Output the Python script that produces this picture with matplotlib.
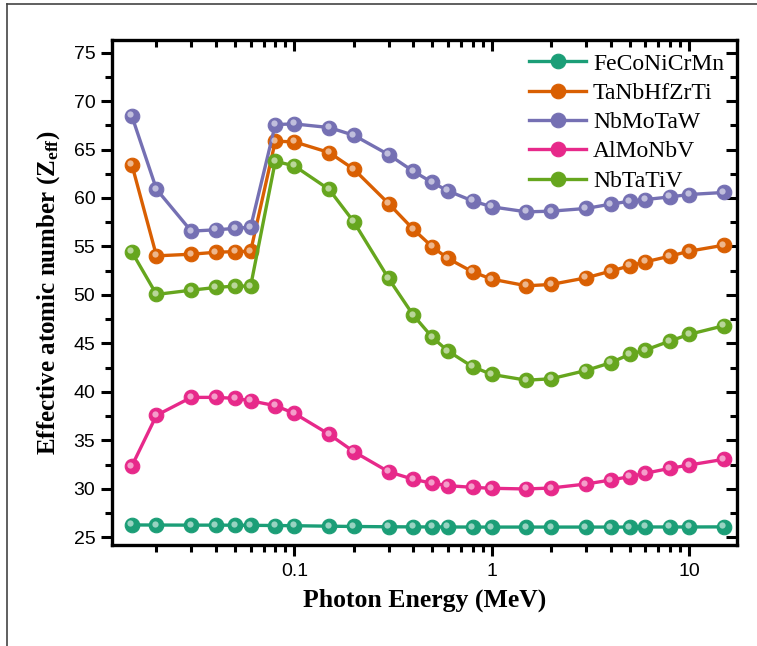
import numpy as np
import matplotlib.pyplot as plt
import matplotlib.transforms as mtransforms
from matplotlib.lines import Line2D
from matplotlib.ticker import MultipleLocator, LogLocator, FixedLocator, NullFormatter

plt.rcParams['mathtext.fontset'] = 'custom'
plt.rcParams['mathtext.bf'] = 'Liberation Serif:bold'
plt.rcParams['mathtext.rm'] = 'Liberation Serif'
plt.rcParams['mathtext.it'] = 'Liberation Serif:italic'

energy = [0.015, 0.02, 0.03, 0.04, 0.05, 0.06, 0.08, 0.1, 0.15, 0.2, 0.3, 0.4, 0.5,
          0.6, 0.8, 1, 1.5, 2, 3, 4, 5, 6, 8, 10, 15]

fe_co_ni_cr_mn = [26.27, 26.26, 26.25, 26.25, 26.24, 26.23, 26.21, 26.19, 26.14, 26.11,
                  26.08, 26.07, 26.06, 26.06, 26.05, 26.05, 26.05, 26.05, 26.05, 26.05,
                  26.05, 26.06, 26.06, 26.06, 26.07]
ta_nb_hf_zr_ti = [63.45, 54.03, 54.2, 54.4, 54.47, 54.5, 65.86, 65.79, 64.69, 62.97,
                  59.43, 56.78, 54.96, 53.76, 52.38, 51.63, 50.94, 51.08, 51.76, 52.45,
                  53.0, 53.41, 54.0, 54.51, 55.13]
nb_mo_ta_w = [68.46, 60.9, 56.58, 56.72, 56.86, 56.99, 67.58, 67.64, 67.27, 66.47,
              64.48, 62.76, 61.6, 60.73, 59.7, 59.09, 58.57, 58.64, 58.92, 59.36,
              59.67, 59.84, 60.11, 60.36, 60.57]
al_mo_nb_v = [32.35, 37.58, 39.43, 39.43, 39.33, 39.08, 38.57, 37.78, 35.62, 33.83,
              31.76, 30.98, 30.57, 30.32, 30.15, 30.05, 29.98, 30.08, 30.49, 30.9,
              31.25, 31.6, 32.11, 32.45, 33.04]
nb_ta_ti_v = [54.44, 50.05, 50.49, 50.77, 50.91, 50.91, 63.79, 63.31, 60.88, 57.54,
              51.7, 47.92, 45.62, 44.21, 42.59, 41.8, 41.2, 41.35, 42.2, 43.0,
              43.87, 44.31, 45.24, 45.93, 46.82]

labels = ["FeCoNiCrMn", "TaNbHfZrTi", "NbMoTaW", "AlMoNbV", "NbTaTiV"]
colors = ["#1b9e77", "#d95f02", "#7570b3", "#e7298a", "#66a61e"]
series = [fe_co_ni_cr_mn, ta_nb_hf_zr_ti, nb_mo_ta_w, al_mo_nb_v, nb_ta_ti_v]

fig = plt.figure(figsize=(7.57, 6.46), dpi=100)
ax = fig.add_axes([112 / 757, 1 - 545 / 646, (737 - 112) / 757, (545 - 40) / 646])

# little highlight on each ball, shifted up-left
shine = mtransforms.offset_copy(ax.transData, fig=fig, x=-1.5, y=1.5, units='dots')

for vals, col, lab in zip(series, colors, labels):
    ax.plot(energy, vals, '-o', color=col, lw=2.4, ms=10.5, mec=col, mew=0.8,
            label=lab, zorder=3)
    ax.plot(energy, vals, 'o', color='white', alpha=0.55, ms=4.5, mew=0,
            transform=shine, zorder=4)

ax.set_xscale('log')
ax.set_xlim(0.0119, 17.5)
ax.set_ylim(24.2, 76.3)

ax.yaxis.set_major_locator(MultipleLocator(5))
ax.yaxis.set_minor_locator(MultipleLocator(2.5))
ax.xaxis.set_major_locator(FixedLocator([0.1, 1, 10]))
ax.xaxis.set_minor_locator(LogLocator(base=10, subs=np.arange(2, 10)))
ax.xaxis.set_minor_formatter(NullFormatter())
ax.set_xticklabels(["0.1", "1", "10"])

for s in ax.spines.values():
    s.set_linewidth(2.4)

ax.tick_params(which='both', top=True, right=True, width=2.2,
               labelsize=14, labelfontfamily='Liberation Sans')
ax.tick_params(which='major', length=8)
ax.tick_params(which='minor', length=5)
ax.tick_params(axis='x', which='both', direction='out', pad=5)
ax.tick_params(axis='y', which='both', direction='out', pad=4)
# inward ticks on the top and right edges
for t in ax.xaxis.get_major_ticks() + ax.xaxis.get_minor_ticks():
    t.tick2line.set_marker(3)
for t in ax.yaxis.get_major_ticks() + ax.yaxis.get_minor_ticks():
    t.tick2line.set_marker(0)

ax.set_xlabel("Photon Energy (MeV)", fontsize=18.5, fontweight='bold',
              family='Liberation Serif', labelpad=6)
ax.set_ylabel(r"Effective atomic number ($\mathbf{Z_{eff}}$)", fontsize=18,
              fontweight='bold', family='Liberation Serif', labelpad=8)

leg = ax.legend(loc='upper right', bbox_to_anchor=(1.0, 1.0), frameon=False,
                prop={'family': 'Liberation Serif', 'size': 17},
                handlelength=2.4, handletextpad=0.3, labelspacing=0.33,
                borderaxespad=0.15)

# page border lines (top and left)
fig.add_artist(Line2D([7 / 757, 1], [1 - 4 / 646, 1 - 4 / 646], color='#444444', lw=1.2))
fig.add_artist(Line2D([7 / 757, 7 / 757], [0, 1 - 4 / 646], color='#444444', lw=1.2))

fig.savefig("out.png", dpi=100)
